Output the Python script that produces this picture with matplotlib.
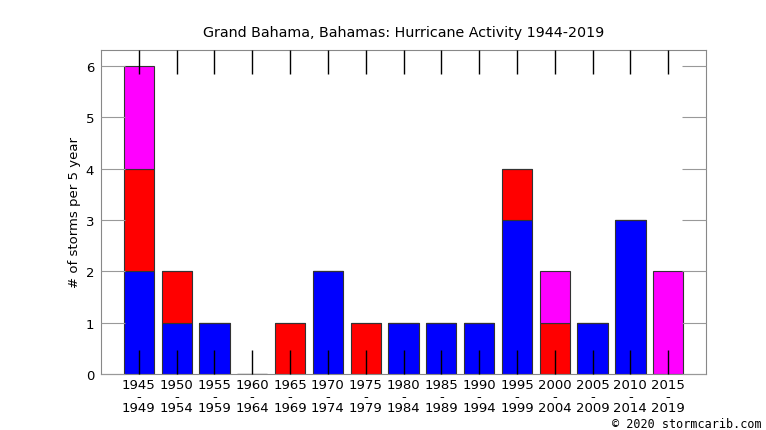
import matplotlib
matplotlib.use("Agg")
import matplotlib.pyplot as plt
import numpy as np

# --- data ---
periods = ["1945\n-\n1949", "1950\n-\n1954", "1955\n-\n1959", "1960\n-\n1964",
           "1965\n-\n1969", "1970\n-\n1974", "1975\n-\n1979", "1980\n-\n1984",
           "1985\n-\n1989", "1990\n-\n1994", "1995\n-\n1999", "2000\n-\n2004",
           "2005\n-\n2009", "2010\n-\n2014", "2015\n-\n2019"]
blue_vals = [2, 1, 1, 0, 0, 2, 0, 1, 1, 1, 3, 0, 1, 3, 0]
red_vals = [2, 1, 0, 0, 1, 0, 1, 0, 0, 0, 1, 1, 0, 0, 0]
magenta_vals = [2, 0, 0, 0, 0, 0, 0, 0, 0, 0, 0, 1, 0, 0, 2]

x = np.arange(len(periods))
blue = np.array(blue_vals)
red = np.array(red_vals)
mag = np.array(magenta_vals)

fig = plt.figure(figsize=(7.66, 4.31), dpi=100)
ax = fig.add_axes([101 / 766, 1 - 375 / 431, 605 / 766, 324 / 431])

w = 0.8
ax.bar(x, blue, w, color="#0000ff", edgecolor="#333333", linewidth=0.8)
ax.bar(x, red, w, bottom=blue, color="#ff0000", edgecolor="#333333", linewidth=0.8)
ax.bar(x, mag, w, bottom=blue + red, color="#ff00ff", edgecolor="#333333", linewidth=0.8)

ax.set_xlim(-1, 15)
ax.set_ylim(0, 6.31)
ax.set_xticks(x)
ax.set_xticklabels(periods, fontsize=9.5, linespacing=0.85)
ax.set_yticks(range(7))
ax.tick_params(axis="x", direction="in", length=17, width=1, color="black",
               top=True, pad=3)
ax.tick_params(axis="y", direction="in", length=17, width=0.8, color="#999999",
               right=True, labelsize=9.5, pad=5)
# top ticks are lighter than the bottom ones
for t in ax.xaxis.get_major_ticks():
    t.tick2line.set_color("#777777")
ax.set_axisbelow(False)
ax.xaxis.set_zorder(5)
for s in ax.spines.values():
    s.set_color("#888888")
    s.set_linewidth(0.8)

ax.set_ylabel("# of storms per 5 year", fontsize=9.5, labelpad=3)
fig.text(404 / 766, 1 - 33 / 431, "Grand Bahama, Bahamas: Hurricane Activity 1944-2019",
         ha="center", va="center", fontsize=10.3)
fig.text(762 / 766, 1 - 425 / 431, "\u00a9 2020 stormcarib.com", ha="right",
         va="center", fontsize=8.5, family="DejaVu Sans Mono")

fig.savefig("out.png", dpi=100)
